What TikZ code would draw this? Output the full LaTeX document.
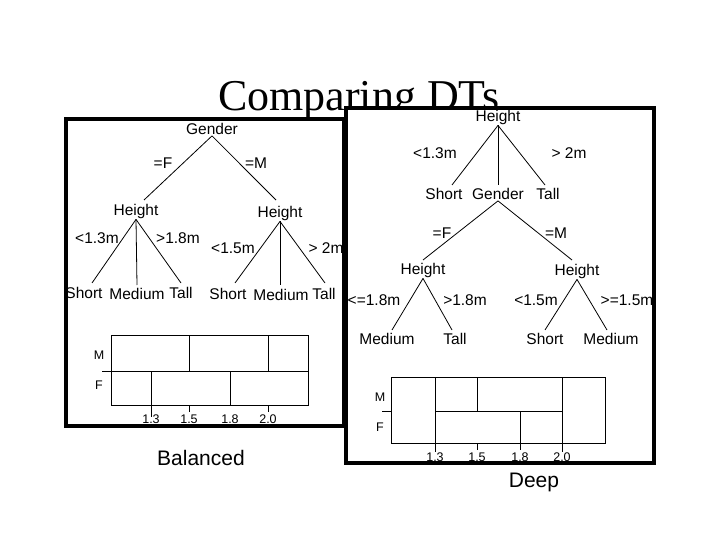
\documentclass[tikz,border=0pt]{standalone}
\usepackage{fontspec}
\setmainfont{Liberation Serif}
\newfontfamily\arial{Liberation Sans}
\begin{document}
\begin{tikzpicture}[x=1pt,y=-1pt,
  t/.style={font=\arial\fontsize{15.5}{15.5}\selectfont,inner sep=1pt},
  sm/.style={font=\arial\fontsize{12.5}{12.5}\selectfont,inner sep=0pt},
  e/.style={line width=0.8pt},
  fr/.style={line width=3.5pt,fill=white}]
\useasboundingbox (0,0) rectangle (720,540);
\node[font=\fontsize{44}{44}\selectfont,inner sep=0pt] (title) at (359,101) {Comparing DTs};
% left panel
\draw[fr] (66,119) rectangle (344,426);
\node[t] (g) at (212,129) {Gender};
\node[t] (h1) at (136,211) {Height};
\node[t] (h2) at (280,213) {Height};
\node[t] (l1) at (163,163) {=F};
\node[t] (l2) at (256,163) {=M};
\draw[e] (g.south) -- (144,200) coordinate (h1t);
\draw[e] (g.south) -- (276,200) coordinate (h2t);
\node[t] (s1) at (84,293) {Short};
\node[t] (m1) at (137,294) {Medium};
\node[t] (ta1) at (181,293) {Tall};
\node[t] (s2) at (228,294) {Short};
\node[t] (m2) at (281,295) {Medium};
\node[t] (ta2) at (324,294) {Tall};
\draw[e] (h1.south) -- (92,283); \draw[e] (h1.south) -- (137,285); \draw[e] (h1.south) -- (181,283);
\draw[e] (h2.south) -- (235,283); \draw[e] (h2.south) -- (280,285); \draw[e] (h2.south) -- (325,283);
\node[t] at (97,238) {<1.3m};
\node[t] at (178,238) {>1.8m};
\node[t] at (233,248) {<1.5m};
\node[t] at (326,248) {> 2m};
\draw[e] (111,335) rectangle (308,405);
\draw[e] (102,371) -- (308,371);
\draw[e] (189,335) -- (189,371); \draw[e] (268,335) -- (268,371);
\draw[e] (151,371) -- (151,417); \draw[e] (230,371) -- (230,405);
\draw[e] (189,405) -- (189,412); \draw[e] (268,405) -- (268,412);
\node[sm] at (99,355) {M}; \node[sm] at (99,385) {F};
\node[sm] at (151,419) {1.3}; \node[sm] at (189,419) {1.5};
\node[sm] at (230,419) {1.8}; \node[sm] at (268,419) {2.0};
\node[font=\arial\fontsize{21}{21}\selectfont,inner sep=0pt] (bal) at (201,458) {Balanced};
% right panel
\draw[fr] (346,108) rectangle (654,463);
\node[t] (rh) at (498,117) {Height};
\node[t] (rs) at (444,194) {Short};
\node[t] (rg) at (498,194) {Gender};
\node[t] (rt) at (548,194) {Tall};
\draw[e] (rh.south) -- (452,185); \draw[e] (rh.south) -- (498,185); \draw[e] (rh.south) -- (545,185);
\node[t] at (435,153) {<1.3m};
\node[t] at (569,153) {> 2m};
\node[t] (rh1) at (423,270) {Height};
\node[t] (rh2) at (577,271) {Height};
\draw[e] (rg.south) -- (423,260); \draw[e] (rg.south) -- (572,260);
\node[t] at (442,233) {=F};
\node[t] at (556,233) {=M};
\node[t] (rm1) at (387,339) {Medium};
\node[t] (rt1) at (455,339) {Tall};
\node[t] (rs2) at (545,339) {Short};
\node[t] (rm2) at (611,339) {Medium};
\draw[e] (rh1.south) -- (392,330); \draw[e] (rh1.south) -- (452,330);
\draw[e] (rh2.south) -- (545,330); \draw[e] (rh2.south) -- (607,330);
\node[t] at (374,300) {<=1.8m};
\node[t] at (465,300) {>1.8m};
\node[t] at (536,300) {<1.5m};
\node[t] at (627,300) {>=1.5m};
\draw[e] (391,377) rectangle (605,443);
\draw[e] (435,377) -- (435,452);
\draw[e] (562,377) -- (562,452);
\draw[e] (477,377) -- (477,411); \draw[e] (477,443) -- (477,450);
\draw[e] (435,411) -- (562,411); \draw[e] (382,411) -- (391,411);
\draw[e] (520,411) -- (520,450);
\node[sm] at (380,397) {M}; \node[sm] at (380,427) {F};
\node[sm] at (435,457) {1.3}; \node[sm] at (477,457) {1.5};
\node[sm] at (520,457) {1.8}; \node[sm] at (562,457) {2.0};
\node[font=\arial\fontsize{21}{21}\selectfont,inner sep=0pt] (deep) at (534,482) {Deep};
\end{tikzpicture}
\end{document}
